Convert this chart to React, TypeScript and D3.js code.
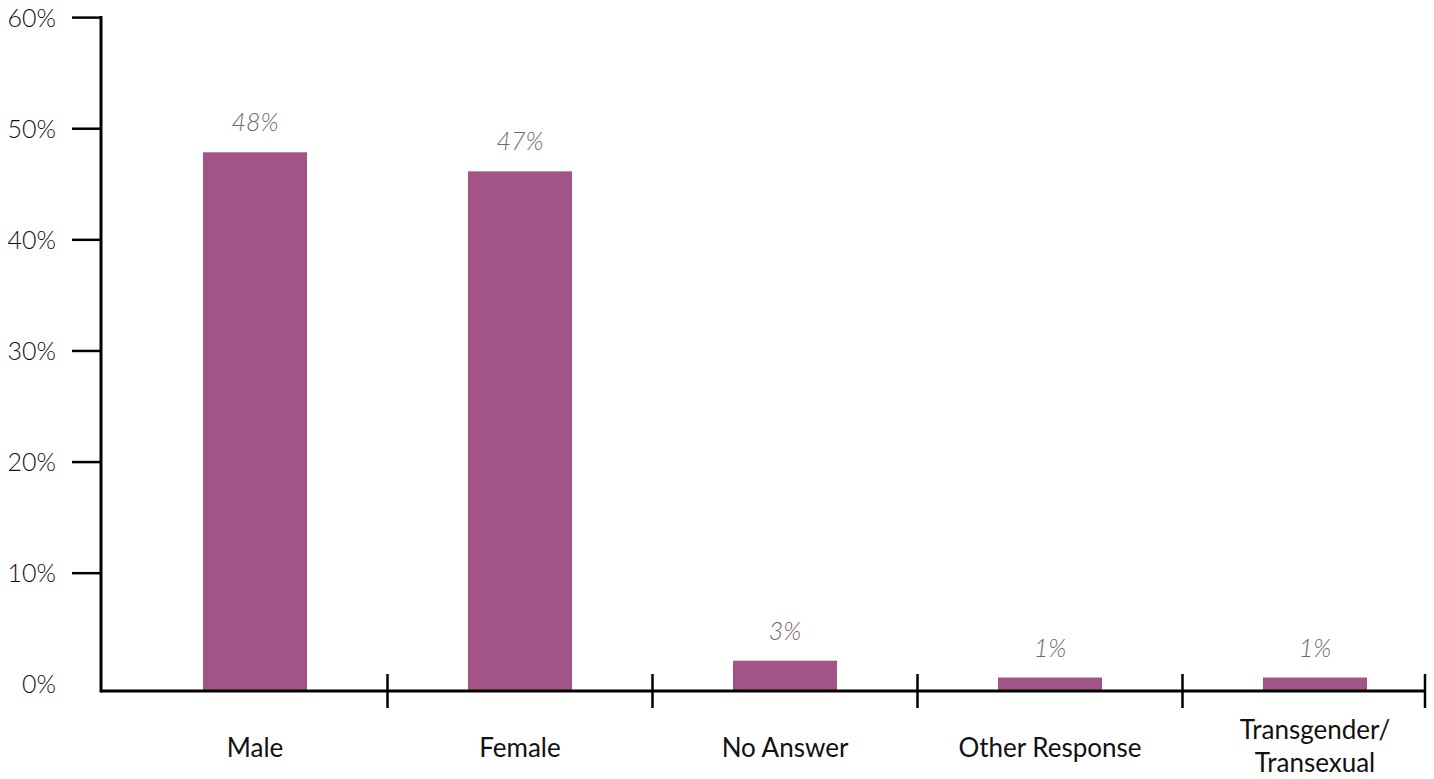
// @ts-nocheck
import * as d3 from "d3";
import { useEffect, useRef } from "react";

const categories = ["Male", "Female", "No Answer", "Other Response", "Transgender/\nTransexual"];
const values = [48.0, 46.3, 2.7, 1.2, 1.2];
const valueLabels = ["48%", "47%", "3%", "1%", "1%"];
const yTicks = [0, 10, 20, 30, 40, 50, 60];

const W = 1434, H = 779;
const axisX = 101, axisEnd = 1425;
const baseY = 691;
const barColor = "#a35486";
const font = "Lato, 'Noto Sans', sans-serif";

const App = () => {
    const ref = useRef(null);

    useEffect(() => {
        const svg = d3.select(ref.current);
        svg.selectAll("*").remove();

        // tick positions and bar heights come from slightly different baselines in the original
        const yTick = d3.scaleLinear().domain([0, 60]).range([684.3, 17.6]);
        const yBar = d3.scaleLinear().domain([0, 60]).range([baseY, 17.6]);

        const x = d3.scaleBand()
            .domain(categories)
            .range([122.5, 1447.5])
            .paddingInner(0.6075)
            .paddingOuter(0.30375);

        // bars
        svg.selectAll(".bar")
            .data(categories)
            .enter()
            .append("rect")
            .attr("x", d => x(d))
            .attr("width", x.bandwidth())
            .attr("y", (d, i) => yBar(values[i]))
            .attr("height", (d, i) => baseY - yBar(values[i]))
            .attr("fill", barColor);

        // value labels
        svg.selectAll(".val")
            .data(categories)
            .enter()
            .append("text")
            .attr("x", d => x(d) + x.bandwidth() / 2)
            .attr("y", (d, i) => yBar(values[i]) - 21)
            .attr("text-anchor", "middle")
            .attr("font-family", font)
            .attr("font-style", "italic")
            .attr("font-weight", 300)
            .attr("font-size", 25)
            .attr("fill", "#75656a")
            .text((d, i) => valueLabels[i]);

        // y axis
        svg.append("line")
            .attr("x1", axisX).attr("x2", axisX)
            .attr("y1", yTick(60) - 1.5).attr("y2", baseY + 1.5)
            .attr("stroke", "#000").attr("stroke-width", 3);

        svg.selectAll(".ytick")
            .data(yTicks.filter(t => t > 0))
            .enter()
            .append("line")
            .attr("x1", 72).attr("x2", axisX)
            .attr("y1", d => yTick(d)).attr("y2", d => yTick(d))
            .attr("stroke", "#000").attr("stroke-width", 2.5);

        svg.selectAll(".ylab")
            .data(yTicks)
            .enter()
            .append("text")
            .attr("x", 56)
            .attr("y", d => yTick(d))
            .attr("dy", "0.36em")
            .attr("text-anchor", "end")
            .attr("font-family", font)
            .attr("font-weight", 300)
            .attr("font-size", 25)
            .attr("fill", "#111")
            .text(d => d + "%");

        // x axis
        svg.append("line")
            .attr("x1", axisX).attr("x2", axisEnd)
            .attr("y1", baseY).attr("y2", baseY)
            .attr("stroke", "#000").attr("stroke-width", 3);

        const seps = categories.slice(0, -1).map(c => x(c) + x.bandwidth() + x.step() * x.paddingInner() / 2);
        seps.push(axisEnd);
        svg.selectAll(".sep")
            .data(seps)
            .enter()
            .append("line")
            .attr("x1", d => d).attr("x2", d => d)
            .attr("y1", 674).attr("y2", 708)
            .attr("stroke", "#000").attr("stroke-width", 2.5);

        // category labels
        const lab = svg.selectAll(".cat")
            .data(categories)
            .enter()
            .append("text")
            .attr("text-anchor", "middle")
            .attr("font-family", font)
            .attr("font-size", 26)
            .attr("fill", "#111");
        lab.each(function (d) {
            const lines = d.split("\n");
            const t = d3.select(this);
            lines.forEach((ln, j) => {
                t.append("tspan")
                    .attr("x", x(d) + x.bandwidth() / 2)
                    .attr("y", 757 - (lines.length - 1) * 18 + j * 33)
                    .text(ln);
            });
        });
    }, []);

    return (
        <svg ref={ref} width={W} height={H} style={{ position: "absolute", left: 0, top: 0, background: "#fff" }} />
    );
};

export default App;
